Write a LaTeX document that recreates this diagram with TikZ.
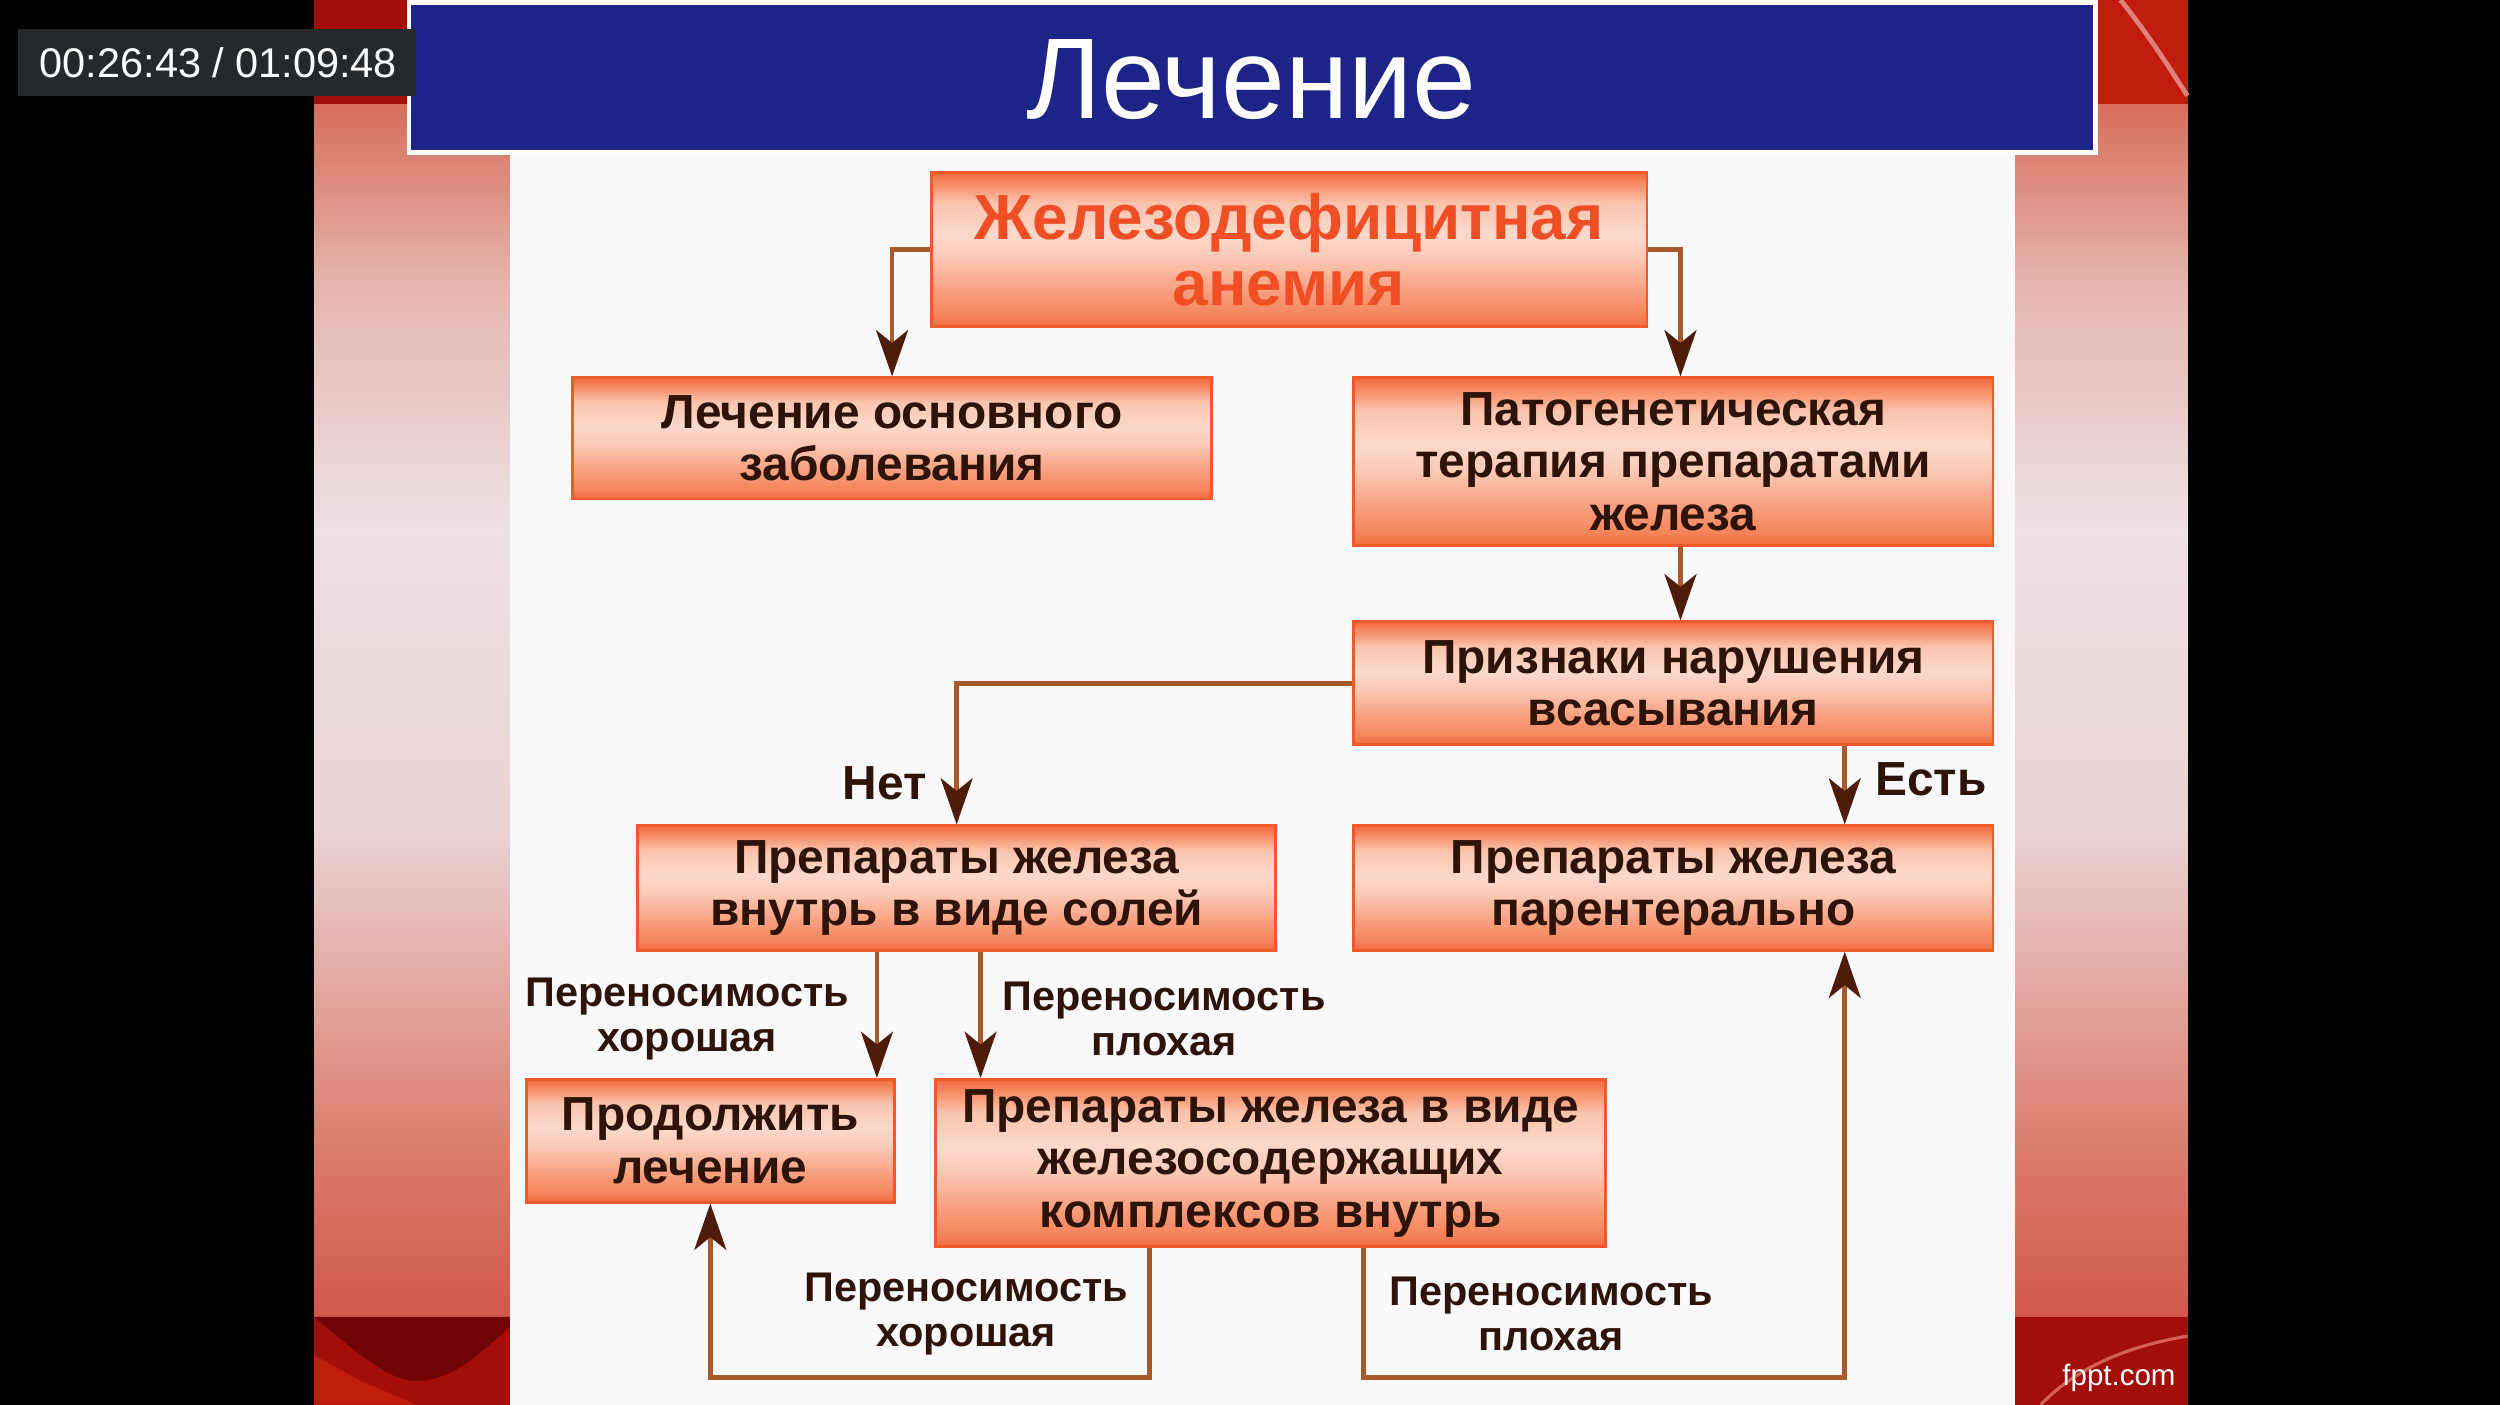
\documentclass[tikz,border=0pt]{standalone}
\usepackage{fontspec}
\setmainfont{Liberation Sans}
\usetikzlibrary{arrows.meta}
\definecolor{bxA}{HTML}{F26A3E}
\definecolor{bxB}{HTML}{F5855C}
\definecolor{bxC}{HTML}{F8A283}
\definecolor{bxD}{HTML}{FBC9B6}
\definecolor{bxE}{HTML}{FCD9CC}
\definecolor{bxF}{HTML}{FAC4AE}
\definecolor{bxG}{HTML}{F68A62}
\definecolor{bxline}{HTML}{EE5A2C}
\definecolor{bxtext}{HTML}{2E1408}
\definecolor{headtext}{HTML}{F04E24}
\definecolor{lnc}{HTML}{A95A2C}
\definecolor{arrc}{HTML}{4E1C08}
\definecolor{sdA}{HTML}{D05848}
\definecolor{sdB}{HTML}{DC8070}
\definecolor{sdC}{HTML}{EBD2D4}
\definecolor{sdD}{HTML}{EEE0E4}
\definecolor{sdE}{HTML}{E6B6AE}
\definecolor{sdF}{HTML}{D66E5A}
\definecolor{navy}{HTML}{1C2488}
\definecolor{panel}{HTML}{F9F9FB}
\definecolor{tsbox}{HTML}{25292B}
\definecolor{redA}{HTML}{A30E08}
\definecolor{redB}{HTML}{C21C0E}
\definecolor{redC}{HTML}{6E0404}
\pgfdeclareverticalshading{boxshade}{100bp}{color(0bp)=(bxA); color(25bp)=(bxA); color(29bp)=(bxB); color(37.5bp)=(bxC); color(47.5bp)=(bxD); color(55bp)=(bxE); color(65bp)=(bxF); color(71.5bp)=(bxG); color(75bp)=(bxA); color(100bp)=(bxA)}
\pgfdeclareverticalshading{sideshade}{100bp}{color(0bp)=(sdA); color(25bp)=(sdA); color(32.5bp)=(sdB); color(45bp)=(sdC); color(57.5bp)=(sdD); color(67.5bp)=(sdE); color(75bp)=(sdF); color(100bp)=(sdF)}
\newcommand\mybxfont{\bfseries\fontsize{30}{33}\selectfont}
\newcommand\myheadfont{\bfseries\fontsize{40}{41}\selectfont}
\newcommand\mylbfont{\bfseries\fontsize{26}{28.5}\selectfont}
\begin{document}
\begin{tikzpicture}[x=1pt,y=-1pt,
  box/.style={draw=bxline, line width=1.8pt, shading=boxshade, inner sep=0pt, align=center, text=bxtext, font=\mybxfont},
  conn/.style={draw=lnc, line width=3pt, -{Stealth[length=29pt,width=20pt,inset=8pt,color=arrc]}},
  lbl/.style={text=bxtext, font=\mybxfont, inner sep=0pt},
  lbltwo/.style={text=bxtext, font=\mylbfont, align=center, inner sep=0pt}]
\useasboundingbox (0,0) rectangle (1568,881);
% background
\fill[black] (0,0) rectangle (1568,881);
\shade[shading=sideshade] (197,65) rectangle (1372,826);
\fill[redA] (197,0) rectangle (1372,65);
\fill[redB] (1316,0) rectangle (1372,65);
\draw[white!45!redB, line width=3pt] (1330,0) .. controls (1350,25) and (1362,45) .. (1372,60);
\fill[redA] (197,826) rectangle (1372,881);
\fill[redB] (197,850) -- (226,866) -- (261,881) -- (197,881) -- cycle;
\fill[redC] (197,826) .. controls (228,852) and (245,866) .. (261,866) .. controls (283,866) and (300,850) .. (320,832) -- (320,826) -- cycle;
\draw[white!30!redB, line width=2pt] (1280,881) .. controls (1300,860) and (1330,845) .. (1372,838);
% white panel
\fill[panel] (320,97) rectangle (1264,881);
% title bar
\fill[white] (255,0) rectangle (1316,97);
\fill[navy] (258,3) rectangle (1313,94);
\node[text=white, font=\fontsize{72}{72}\selectfont, inner sep=0pt] (title) at (785,50) {Лечение};
% timestamp
\fill[tsbox] (11,18) rectangle (261,60);
\node[text=white, font=\fontsize{26}{26}\selectfont, inner sep=0pt] (ts) at (137,39) {00:26:43 / 01:09:48};
% footer
\node[text=white, font=\fontsize{18.5}{18.5}\selectfont, inner sep=0pt] (fppt) at (1329,864) {fppt.com};
% boxes
\node[box, text=headtext, font=\myheadfont, minimum width=449pt, minimum height=97pt] (anem) at (808.5,156.5) {Железодефицитная\\анемия};
\node[box, minimum width=401pt, minimum height=76pt] (lech) at (559.5,275) {Лечение основного\\заболевания};
\node[box, minimum width=401pt, minimum height=105pt] (pato) at (1049.5,289.5) {Патогенетическая\\терапия препаратами\\железа};
\node[box, minimum width=401pt, minimum height=77pt] (prizn) at (1049.5,428.5) {Признаки нарушения\\всасывания};
\node[box, minimum width=400pt, minimum height=78pt] (salt) at (600,557) {Препараты железа\\внутрь в виде солей};
\node[box, minimum width=401pt, minimum height=78pt] (parent) at (1049.5,557) {Препараты железа\\парентерально};
\node[box, minimum width=231pt, minimum height=77pt] (cont) at (445.5,715.5) {Продолжить\\лечение};
\node[box, minimum width=420pt, minimum height=105pt] (compl) at (797,729.5) {Препараты железа в виде\\железосодержащих\\комплексов внутрь};
% connectors
\draw[conn] (anem.west) -| (lech.north);
\draw[conn] (anem.east) -| ([xshift=4.5pt]pato.north);
\draw[conn] ([xshift=4.5pt]pato.south) -- ([xshift=4.5pt]prizn.north);
\draw[conn] (prizn.west) -| (salt.north);
\draw[conn] ([xshift=107.5pt]prizn.south) -- ([xshift=107.5pt]parent.north);
\draw[conn] ([xshift=-50pt]salt.south) -- ([xshift=-50pt]salt.south |- cont.north);
\draw[conn] ([xshift=15pt]salt.south) -- ([xshift=15pt]salt.south |- compl.north);
\draw[conn] ([xshift=-76pt]compl.south) -- ++(0,81) -| (cont.south);
\draw[conn] ([xshift=58pt]compl.south) -- ++(0,81) -| ([xshift=107.5pt]parent.south);
% labels
\node[lbl] (net) at (555,491) {Нет};
\node[lbl] (est) at (1211,489) {Есть};
\node[lbltwo] (t1) at (431,639) {Переносимость\\хорошая};
\node[lbltwo] (t2) at (730,639) {Переносимость\\плохая};
\node[lbltwo] (t3) at (606,824) {Переносимость\\хорошая};
\node[lbltwo] (t4) at (973,824) {Переносимость\\плохая};
\end{tikzpicture}
\end{document}
